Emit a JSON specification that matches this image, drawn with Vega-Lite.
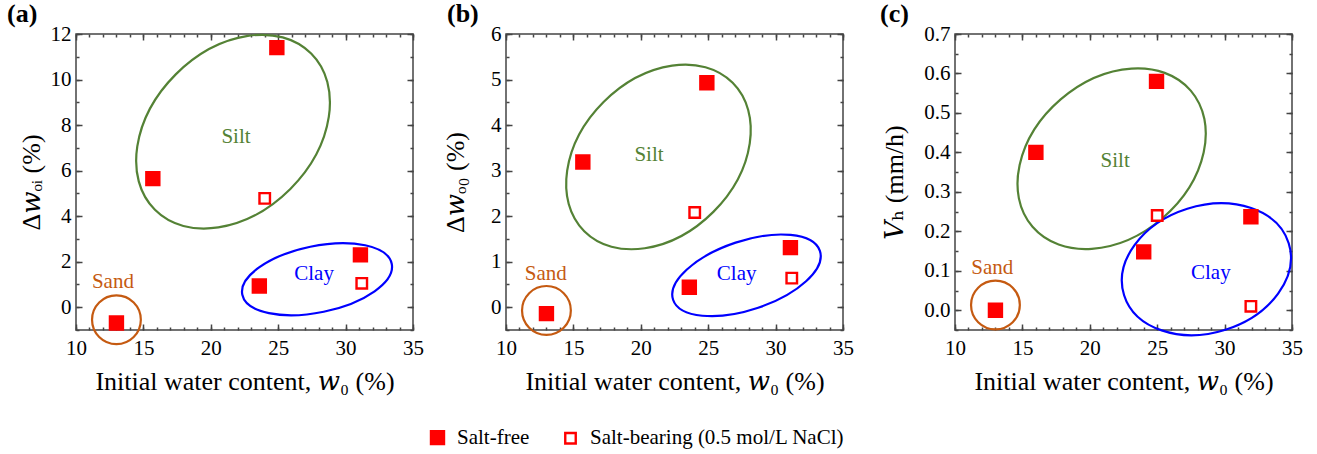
{
  "$schema": "https://vega.github.io/schema/vega-lite/v6.json",
  "background": "white",
  "padding": {"left": 6, "top": 0, "right": 5, "bottom": 5},
  "config": {
    "font": "Liberation Serif",
    "view": {"stroke": "#444444", "strokeWidth": 1.5},
    "axis": {
      "domain": false,
      "grid": false,
      "tickColor": "#444444",
      "tickWidth": 1.5,
      "labelFont": "Liberation Serif",
      "labelFontSize": 21,
      "labelColor": "black",
      "labelFlush": false,
      "labelOverlap": false,
      "titleFont": "Liberation Serif, DejaVu Serif",
      "titleFontSize": 26,
      "titleFontWeight": "normal",
      "titleColor": "black"
    },
    "legend": {"labelFont": "Liberation Serif", "labelFontSize": 21, "labelColor": "black", "labelLimit": 0},
    "title": {"font": "Liberation Serif", "fontSize": 26, "fontWeight": "bold", "color": "black", "anchor": "start", "frame": "group"}
  },
  "datasets": {
    "points": [
      {"panel": "a", "w0": 24.9, "value": 11.4, "condition": "Salt-free"},
      {"panel": "a", "w0": 15.7, "value": 5.65, "condition": "Salt-free"},
      {"panel": "a", "w0": 24.0, "value": 4.78, "condition": "Salt-bearing (0.5 mol/L NaCl)"},
      {"panel": "a", "w0": 31.1, "value": 2.3, "condition": "Salt-free"},
      {"panel": "a", "w0": 31.2, "value": 1.05, "condition": "Salt-bearing (0.5 mol/L NaCl)"},
      {"panel": "a", "w0": 23.6, "value": 0.93, "condition": "Salt-free"},
      {"panel": "a", "w0": 13.0, "value": -0.69, "condition": "Salt-free"},
      {"panel": "b", "w0": 24.9, "value": 4.93, "condition": "Salt-free"},
      {"panel": "b", "w0": 15.7, "value": 3.19, "condition": "Salt-free"},
      {"panel": "b", "w0": 24.0, "value": 2.08, "condition": "Salt-bearing (0.5 mol/L NaCl)"},
      {"panel": "b", "w0": 31.1, "value": 1.31, "condition": "Salt-free"},
      {"panel": "b", "w0": 31.2, "value": 0.64, "condition": "Salt-bearing (0.5 mol/L NaCl)"},
      {"panel": "b", "w0": 23.6, "value": 0.44, "condition": "Salt-free"},
      {"panel": "b", "w0": 13.0, "value": -0.14, "condition": "Salt-free"},
      {"panel": "c", "w0": 24.95, "value": 0.58, "condition": "Salt-free"},
      {"panel": "c", "w0": 16.0, "value": 0.40, "condition": "Salt-free"},
      {"panel": "c", "w0": 25.0, "value": 0.24, "condition": "Salt-bearing (0.5 mol/L NaCl)"},
      {"panel": "c", "w0": 31.95, "value": 0.237, "condition": "Salt-free"},
      {"panel": "c", "w0": 24.0, "value": 0.148, "condition": "Salt-free"},
      {"panel": "c", "w0": 31.95, "value": 0.01, "condition": "Salt-bearing (0.5 mol/L NaCl)"},
      {"panel": "c", "w0": 13.0, "value": 0.0, "condition": "Salt-free"}
    ],
    "rings": [
      {"panel": "a", "soil": "Silt", "ring": "a-Silt", "w0": 21.65, "value": 7.71},
      {"panel": "a", "soil": "Clay", "ring": "a-Clay", "w0": 27.88, "value": 1.23},
      {"panel": "a", "soil": "Sand", "ring": "Sand", "w0": 13.0, "value": -0.55},
      {"panel": "b", "soil": "Silt", "ring": "b-Silt", "w0": 21.31, "value": 3.30},
      {"panel": "b", "soil": "Clay", "ring": "b-Clay", "w0": 27.84, "value": 0.70},
      {"panel": "b", "soil": "Sand", "ring": "Sand", "w0": 13.0, "value": -0.07},
      {"panel": "c", "soil": "Silt", "ring": "c-Silt", "w0": 21.62, "value": 0.384},
      {"panel": "c", "soil": "Clay", "ring": "c-Clay", "w0": 28.65, "value": 0.104},
      {"panel": "c", "soil": "Sand", "ring": "Sand", "w0": 13.0, "value": 0.0135}
    ],
    "labels": [
      {"panel": "a", "soil": "Silt", "w0": 21.87, "value": 7.47},
      {"panel": "a", "soil": "Clay", "w0": 27.66, "value": 1.45},
      {"panel": "a", "soil": "Sand", "w0": 12.74, "value": 1.10},
      {"panel": "b", "soil": "Silt", "w0": 20.61, "value": 3.34},
      {"panel": "b", "soil": "Clay", "w0": 27.11, "value": 0.72},
      {"panel": "b", "soil": "Sand", "w0": 12.95, "value": 0.74},
      {"panel": "c", "soil": "Silt", "w0": 21.88, "value": 0.377},
      {"panel": "c", "soil": "Clay", "w0": 28.98, "value": 0.095},
      {"panel": "c", "soil": "Sand", "w0": 12.77, "value": 0.106}
    ]
  },
  "spacing": 93,
  "bounds": "flush",
  "resolve": {"scale": {"fill": "shared", "stroke": "shared", "size": "shared", "color": "shared", "shape": "shared"}},
  "hconcat": [
    {
      "width": 337,
      "height": 296,
      "title": {"text": "(a)", "dx": -69, "dy": 4, "offset": 0},
      "resolve": {"axis": {"x": "independent", "y": "independent"}},
      "layer": [
        {
          "data": {"name": "rings"},
          "transform": [{"filter": "datum.panel === 'a'"}],
          "mark": {"type": "point", "filled": false, "size": 40000, "strokeWidth": 2.2, "opacity": 1},
          "encoding": {
            "x": {"field": "w0", "type": "quantitative", "axis": null, "scale": {"domain": [10, 35], "nice": false, "zero": false}},
            "y": {"field": "value", "type": "quantitative", "axis": null, "scale": {"domain": [-1, 12], "nice": false, "zero": false}},
            "color": {"field": "soil", "type": "nominal", "legend": null, "scale": {"domain": ["Silt", "Clay", "Sand"], "range": ["#548235", "#0000ff", "#c55a11"]}},
            "shape": {"field": "ring", "type": "nominal", "legend": null, "scale": {
              "domain": ["a-Silt", "a-Clay", "b-Silt", "b-Clay", "c-Silt", "c-Clay", "Sand"],
              "range": [
                "M 0.781 -0.781 C 1.098 -0.465 1.004 0.141 0.573 0.573 C 0.141 1.004 -0.465 1.098 -0.781 0.781 C -1.098 0.465 -1.004 -0.141 -0.573 -0.573 C -0.141 -1.004 0.465 -1.098 0.781 -0.781 Z",
                "M 0.747 -0.155 C 0.784 0.025 0.480 0.240 0.067 0.325 C -0.346 0.411 -0.710 0.334 -0.747 0.155 C -0.784 -0.025 -0.480 -0.240 -0.067 -0.325 C 0.346 -0.411 0.710 -0.334 0.747 -0.155 Z",
                "M 0.742 -0.742 C 1.045 -0.439 0.959 0.139 0.549 0.549 C 0.139 0.959 -0.439 1.045 -0.742 0.742 C -1.045 0.439 -0.959 -0.139 -0.549 -0.549 C -0.139 -0.959 0.439 -1.045 0.742 -0.742 Z",
                "M 0.734 -0.244 C 0.794 -0.063 0.514 0.192 0.109 0.327 C -0.296 0.462 -0.674 0.425 -0.734 0.244 C -0.794 0.063 -0.514 -0.192 -0.109 -0.327 C 0.296 -0.462 0.674 -0.425 0.734 -0.244 Z",
                "M 0.791 -0.681 C 1.073 -0.353 0.947 0.217 0.510 0.593 C 0.073 0.969 -0.509 1.009 -0.791 0.681 C -1.073 0.353 -0.947 -0.217 -0.510 -0.593 C -0.073 -0.969 0.509 -1.009 0.791 -0.681 Z",
                "M 0.823 -0.260 C 0.928 0.074 0.646 0.461 0.191 0.605 C -0.264 0.749 -0.718 0.594 -0.823 0.260 C -0.928 -0.074 -0.646 -0.461 -0.191 -0.605 C 0.264 -0.749 0.718 -0.594 0.823 -0.260 Z",
                "M 0.244 0 C 0.244 0.135 0.135 0.244 0 0.244 C -0.135 0.244 -0.244 0.135 -0.244 0 C -0.244 -0.135 -0.135 -0.244 0 -0.244 C 0.135 -0.244 0.244 -0.135 0.244 0 Z"
              ]}}
          }
        },
        {
          "data": {"name": "labels"},
          "transform": [{"filter": "datum.panel === 'a'"}],
          "mark": {"type": "text", "fontSize": 21, "align": "center", "baseline": "middle"},
          "encoding": {
            "x": {"field": "w0", "type": "quantitative", "axis": null, "scale": {"domain": [10, 35], "nice": false, "zero": false}},
            "y": {"field": "value", "type": "quantitative", "axis": null, "scale": {"domain": [-1, 12], "nice": false, "zero": false}},
            "text": {"field": "soil"},
            "color": {"field": "soil", "type": "nominal", "legend": null}
          }
        },
        {
          "data": {"name": "points"},
          "transform": [{"filter": "datum.panel === 'a'"}],
          "mark": {"type": "point", "shape": "square", "filled": true, "strokeWidth": 2.4, "opacity": 1},
          "encoding": {
            "x": {"field": "w0", "type": "quantitative", "scale": {"domain": [10, 35], "nice": false, "zero": false},
              "axis": {"orient": "bottom", "values": [10, 15, 20, 25, 30, 35], "ticks": false, "labelPadding": 7,
                "title": "Initial water content, 𝑤₀ (%)", "titlePadding": 10}},
            "y": {"field": "value", "type": "quantitative", "scale": {"domain": [-1, 12], "nice": false, "zero": false},
              "axis": {"orient": "left", "values": [0, 2, 4, 6, 8, 10, 12], "ticks": false, "labelPadding": 5,
                "title": "Δ𝑤ₒᵢ (%)", "titlePadding": 6}},
            "fill": {"field": "condition", "type": "nominal", "scale": {"domain": ["Salt-free", "Salt-bearing (0.5 mol/L NaCl)"], "range": ["#ff0000", "#ffffff"]},
              "legend": {"orient": "none", "legendX": 351, "legendY": 393, "direction": "horizontal", "title": null, "labelFont": "Liberation Serif", "labelFontSize": 21, "symbolType": "square", "symbolStrokeWidth": 2.4, "columnPadding": 30, "labelOffset": 9}},
            "stroke": {"field": "condition", "type": "nominal", "scale": {"domain": ["Salt-free", "Salt-bearing (0.5 mol/L NaCl)"], "range": ["#ff0000", "#ff0000"]},
              "legend": {"orient": "none", "legendX": 351, "legendY": 393, "direction": "horizontal", "title": null, "labelFont": "Liberation Serif", "labelFontSize": 21, "symbolType": "square", "symbolStrokeWidth": 2.4, "columnPadding": 30, "labelOffset": 9}},
            "size": {"field": "condition", "type": "nominal", "scale": {"domain": ["Salt-free", "Salt-bearing (0.5 mol/L NaCl)"], "range": [169, 110]},
              "legend": {"orient": "none", "legendX": 351, "legendY": 393, "direction": "horizontal", "title": null, "labelFont": "Liberation Serif", "labelFontSize": 21, "symbolType": "square", "symbolStrokeWidth": 2.4, "columnPadding": 30, "labelOffset": 9}}
          }
        },
        {
          "data": {"name": "points"},
          "transform": [{"filter": "datum.panel === 'a'"}],
          "mark": {"type": "point", "opacity": 0},
          "encoding": {
            "x": {"field": "w0", "type": "quantitative", "scale": {"domain": [10, 35], "nice": false, "zero": false},
              "axis": {"orient": "bottom", "values": [10, 15, 20, 25, 30, 35], "offset": -6, "tickSize": 6, "labels": false, "title": null}},
            "y": {"field": "value", "type": "quantitative", "scale": {"domain": [-1, 12], "nice": false, "zero": false},
              "axis": {"orient": "left", "values": [0, 2, 4, 6, 8, 10, 12], "offset": -6, "tickSize": 6, "labels": false, "title": null}}
          }
        },
        {
          "data": {"name": "points"},
          "transform": [{"filter": "datum.panel === 'a'"}],
          "mark": {"type": "point", "opacity": 0},
          "encoding": {
            "x": {"field": "w0", "type": "quantitative", "scale": {"domain": [10, 35], "nice": false, "zero": false},
              "axis": {"orient": "bottom", "values": [10,11,12,13,14,15,16,17,18,19,20,21,22,23,24,25,26,27,28,29,30,31,32,33,34,35], "offset": -3, "tickSize": 3, "labels": false, "title": null}},
            "y": {"field": "value", "type": "quantitative", "scale": {"domain": [-1, 12], "nice": false, "zero": false},
              "axis": {"orient": "left", "values": [-1,0,1,2,3,4,5,6,7,8,9,10,11,12], "offset": -3, "tickSize": 3, "labels": false, "title": null}}
          }
        },
        {
          "data": {"name": "points"},
          "transform": [{"filter": "datum.panel === 'a'"}],
          "mark": {"type": "point", "opacity": 0},
          "encoding": {
            "x": {"field": "w0", "type": "quantitative", "scale": {"domain": [10, 35], "nice": false, "zero": false},
              "axis": {"orient": "top", "values": [10, 15, 20, 25, 30, 35], "offset": -6, "tickSize": 6, "labels": false, "title": null}},
            "y": {"field": "value", "type": "quantitative", "scale": {"domain": [-1, 12], "nice": false, "zero": false},
              "axis": {"orient": "right", "values": [0, 2, 4, 6, 8, 10, 12], "offset": -6, "tickSize": 6, "labels": false, "title": null}}
          }
        },
        {
          "data": {"name": "points"},
          "transform": [{"filter": "datum.panel === 'a'"}],
          "mark": {"type": "point", "opacity": 0},
          "encoding": {
            "x": {"field": "w0", "type": "quantitative", "scale": {"domain": [10, 35], "nice": false, "zero": false},
              "axis": {"orient": "top", "values": [10,11,12,13,14,15,16,17,18,19,20,21,22,23,24,25,26,27,28,29,30,31,32,33,34,35], "offset": -3, "tickSize": 3, "labels": false, "title": null}},
            "y": {"field": "value", "type": "quantitative", "scale": {"domain": [-1, 12], "nice": false, "zero": false},
              "axis": {"orient": "right", "values": [-1,0,1,2,3,4,5,6,7,8,9,10,11,12], "offset": -3, "tickSize": 3, "labels": false, "title": null}}
          }
        }
      ]
    },
    {
      "spacing": 112,
      "bounds": "flush",
      "hconcat": [
        {
          "width": 337,
          "height": 296,
          "title": {"text": "(b)", "dx": -59, "dy": 4, "offset": 0},
          "resolve": {"axis": {"x": "independent", "y": "independent"}},
          "layer": [
            {
              "data": {"name": "rings"},
              "transform": [{"filter": "datum.panel === 'b'"}],
              "mark": {"type": "point", "filled": false, "size": 40000, "strokeWidth": 2.2, "opacity": 1},
              "encoding": {
                "x": {"field": "w0", "type": "quantitative", "axis": null, "scale": {"domain": [10, 35], "nice": false, "zero": false}},
                "y": {"field": "value", "type": "quantitative", "axis": null, "scale": {"domain": [-0.5, 6], "nice": false, "zero": false}},
                "color": {"field": "soil", "type": "nominal", "legend": null},
                "shape": {"field": "ring", "type": "nominal", "legend": null}
              }
            },
            {
              "data": {"name": "labels"},
              "transform": [{"filter": "datum.panel === 'b'"}],
              "mark": {"type": "text", "fontSize": 21, "align": "center", "baseline": "middle"},
              "encoding": {
                "x": {"field": "w0", "type": "quantitative", "axis": null, "scale": {"domain": [10, 35], "nice": false, "zero": false}},
                "y": {"field": "value", "type": "quantitative", "axis": null, "scale": {"domain": [-0.5, 6], "nice": false, "zero": false}},
                "text": {"field": "soil"},
                "color": {"field": "soil", "type": "nominal", "legend": null}
              }
            },
            {
              "data": {"name": "points"},
              "transform": [{"filter": "datum.panel === 'b'"}],
              "mark": {"type": "point", "shape": "square", "filled": true, "strokeWidth": 2.4, "opacity": 1},
              "encoding": {
                "x": {"field": "w0", "type": "quantitative", "scale": {"domain": [10, 35], "nice": false, "zero": false},
                  "axis": {"orient": "bottom", "values": [10, 15, 20, 25, 30, 35], "ticks": false, "labelPadding": 7,
                    "title": "Initial water content, 𝑤₀ (%)", "titlePadding": 10}},
                "y": {"field": "value", "type": "quantitative", "scale": {"domain": [-0.5, 6], "nice": false, "zero": false},
                  "axis": {"orient": "left", "values": [0, 1, 2, 3, 4, 5, 6], "format": "d", "ticks": false, "labelPadding": 5,
                    "title": "Δ𝑤ₒ₀ (%)", "titlePadding": 22}},
                "fill": {"field": "condition", "type": "nominal",
                  "legend": {"orient": "none", "legendX": 351, "legendY": 393, "direction": "horizontal", "title": null, "labelFont": "Liberation Serif", "labelFontSize": 21, "symbolType": "square", "symbolStrokeWidth": 2.4, "columnPadding": 30, "labelOffset": 9}},
                "stroke": {"field": "condition", "type": "nominal",
                  "legend": {"orient": "none", "legendX": 351, "legendY": 393, "direction": "horizontal", "title": null, "labelFont": "Liberation Serif", "labelFontSize": 21, "symbolType": "square", "symbolStrokeWidth": 2.4, "columnPadding": 30, "labelOffset": 9}},
                "size": {"field": "condition", "type": "nominal",
                  "legend": {"orient": "none", "legendX": 351, "legendY": 393, "direction": "horizontal", "title": null, "labelFont": "Liberation Serif", "labelFontSize": 21, "symbolType": "square", "symbolStrokeWidth": 2.4, "columnPadding": 30, "labelOffset": 9}}
              }
            },
            {
              "data": {"name": "points"},
              "transform": [{"filter": "datum.panel === 'b'"}],
              "mark": {"type": "point", "opacity": 0},
              "encoding": {
                "x": {"field": "w0", "type": "quantitative", "scale": {"domain": [10, 35], "nice": false, "zero": false},
                  "axis": {"orient": "bottom", "values": [10, 15, 20, 25, 30, 35], "offset": -6, "tickSize": 6, "labels": false, "title": null}},
                "y": {"field": "value", "type": "quantitative", "scale": {"domain": [-0.5, 6], "nice": false, "zero": false},
                  "axis": {"orient": "left", "values": [0, 1, 2, 3, 4, 5, 6], "offset": -6, "tickSize": 6, "labels": false, "title": null}}
              }
            },
            {
              "data": {"name": "points"},
              "transform": [{"filter": "datum.panel === 'b'"}],
              "mark": {"type": "point", "opacity": 0},
              "encoding": {
                "x": {"field": "w0", "type": "quantitative", "scale": {"domain": [10, 35], "nice": false, "zero": false},
                  "axis": {"orient": "bottom", "values": [10,11,12,13,14,15,16,17,18,19,20,21,22,23,24,25,26,27,28,29,30,31,32,33,34,35], "offset": -3, "tickSize": 3, "labels": false, "title": null}},
                "y": {"field": "value", "type": "quantitative", "scale": {"domain": [-0.5, 6], "nice": false, "zero": false},
                  "axis": {"orient": "left", "values": [-0.5,0,0.5,1,1.5,2,2.5,3,3.5,4,4.5,5,5.5,6], "offset": -3, "tickSize": 3, "labels": false, "title": null}}
              }
            },
            {
              "data": {"name": "points"},
              "transform": [{"filter": "datum.panel === 'b'"}],
              "mark": {"type": "point", "opacity": 0},
              "encoding": {
                "x": {"field": "w0", "type": "quantitative", "scale": {"domain": [10, 35], "nice": false, "zero": false},
                  "axis": {"orient": "top", "values": [10, 15, 20, 25, 30, 35], "offset": -6, "tickSize": 6, "labels": false, "title": null}},
                "y": {"field": "value", "type": "quantitative", "scale": {"domain": [-0.5, 6], "nice": false, "zero": false},
                  "axis": {"orient": "right", "values": [0, 1, 2, 3, 4, 5, 6], "offset": -6, "tickSize": 6, "labels": false, "title": null}}
              }
            },
            {
              "data": {"name": "points"},
              "transform": [{"filter": "datum.panel === 'b'"}],
              "mark": {"type": "point", "opacity": 0},
              "encoding": {
                "x": {"field": "w0", "type": "quantitative", "scale": {"domain": [10, 35], "nice": false, "zero": false},
                  "axis": {"orient": "top", "values": [10,11,12,13,14,15,16,17,18,19,20,21,22,23,24,25,26,27,28,29,30,31,32,33,34,35], "offset": -3, "tickSize": 3, "labels": false, "title": null}},
                "y": {"field": "value", "type": "quantitative", "scale": {"domain": [-0.5, 6], "nice": false, "zero": false},
                  "axis": {"orient": "right", "values": [-0.5,0,0.5,1,1.5,2,2.5,3,3.5,4,4.5,5,5.5,6], "offset": -3, "tickSize": 3, "labels": false, "title": null}}
              }
            }
          ]
        },
        {
          "width": 337,
          "height": 296,
          "title": {"text": "(c)", "dx": -75, "dy": 4, "offset": 0},
          "resolve": {"axis": {"x": "independent", "y": "independent"}},
          "layer": [
            {
              "data": {"name": "rings"},
              "transform": [{"filter": "datum.panel === 'c'"}],
              "mark": {"type": "point", "filled": false, "size": 40000, "strokeWidth": 2.2, "opacity": 1},
              "encoding": {
                "x": {"field": "w0", "type": "quantitative", "axis": null, "scale": {"domain": [10, 35], "nice": false, "zero": false}},
                "y": {"field": "value", "type": "quantitative", "axis": null, "scale": {"domain": [-0.05, 0.7], "nice": false, "zero": false}},
                "color": {"field": "soil", "type": "nominal", "legend": null},
                "shape": {"field": "ring", "type": "nominal", "legend": null}
              }
            },
            {
              "data": {"name": "labels"},
              "transform": [{"filter": "datum.panel === 'c'"}],
              "mark": {"type": "text", "fontSize": 21, "align": "center", "baseline": "middle"},
              "encoding": {
                "x": {"field": "w0", "type": "quantitative", "axis": null, "scale": {"domain": [10, 35], "nice": false, "zero": false}},
                "y": {"field": "value", "type": "quantitative", "axis": null, "scale": {"domain": [-0.05, 0.7], "nice": false, "zero": false}},
                "text": {"field": "soil"},
                "color": {"field": "soil", "type": "nominal", "legend": null}
              }
            },
            {
              "data": {"name": "points"},
              "transform": [{"filter": "datum.panel === 'c'"}],
              "mark": {"type": "point", "shape": "square", "filled": true, "strokeWidth": 2.4, "opacity": 1},
              "encoding": {
                "x": {"field": "w0", "type": "quantitative", "scale": {"domain": [10, 35], "nice": false, "zero": false},
                  "axis": {"orient": "bottom", "values": [10, 15, 20, 25, 30, 35], "ticks": false, "labelPadding": 7,
                    "title": "Initial water content, 𝑤₀ (%)", "titlePadding": 10}},
                "y": {"field": "value", "type": "quantitative", "scale": {"domain": [-0.05, 0.7], "nice": false, "zero": false},
                  "axis": {"orient": "left", "values": [0, 0.1, 0.2, 0.3, 0.4, 0.5, 0.6, 0.7], "format": ".1f", "ticks": false, "labelPadding": 5,
                    "title": "𝑉ₕ (mm/h)", "titlePadding": 16}},
                "fill": {"field": "condition", "type": "nominal",
                  "legend": {"orient": "none", "legendX": 351, "legendY": 393, "direction": "horizontal", "title": null, "labelFont": "Liberation Serif", "labelFontSize": 21, "symbolType": "square", "symbolStrokeWidth": 2.4, "columnPadding": 30, "labelOffset": 9}},
                "stroke": {"field": "condition", "type": "nominal",
                  "legend": {"orient": "none", "legendX": 351, "legendY": 393, "direction": "horizontal", "title": null, "labelFont": "Liberation Serif", "labelFontSize": 21, "symbolType": "square", "symbolStrokeWidth": 2.4, "columnPadding": 30, "labelOffset": 9}},
                "size": {"field": "condition", "type": "nominal",
                  "legend": {"orient": "none", "legendX": 351, "legendY": 393, "direction": "horizontal", "title": null, "labelFont": "Liberation Serif", "labelFontSize": 21, "symbolType": "square", "symbolStrokeWidth": 2.4, "columnPadding": 30, "labelOffset": 9}}
              }
            },
            {
              "data": {"name": "points"},
              "transform": [{"filter": "datum.panel === 'c'"}],
              "mark": {"type": "point", "opacity": 0},
              "encoding": {
                "x": {"field": "w0", "type": "quantitative", "scale": {"domain": [10, 35], "nice": false, "zero": false},
                  "axis": {"orient": "bottom", "values": [10, 15, 20, 25, 30, 35], "offset": -6, "tickSize": 6, "labels": false, "title": null}},
                "y": {"field": "value", "type": "quantitative", "scale": {"domain": [-0.05, 0.7], "nice": false, "zero": false},
                  "axis": {"orient": "left", "values": [0, 0.1, 0.2, 0.3, 0.4, 0.5, 0.6, 0.7], "offset": -6, "tickSize": 6, "labels": false, "title": null}}
              }
            },
            {
              "data": {"name": "points"},
              "transform": [{"filter": "datum.panel === 'c'"}],
              "mark": {"type": "point", "opacity": 0},
              "encoding": {
                "x": {"field": "w0", "type": "quantitative", "scale": {"domain": [10, 35], "nice": false, "zero": false},
                  "axis": {"orient": "bottom", "values": [10,11,12,13,14,15,16,17,18,19,20,21,22,23,24,25,26,27,28,29,30,31,32,33,34,35], "offset": -3, "tickSize": 3, "labels": false, "title": null}},
                "y": {"field": "value", "type": "quantitative", "scale": {"domain": [-0.05, 0.7], "nice": false, "zero": false},
                  "axis": {"orient": "left", "values": [-0.05,0,0.05,0.1,0.15,0.2,0.25,0.3,0.35,0.4,0.45,0.5,0.55,0.6,0.65,0.7], "offset": -3, "tickSize": 3, "labels": false, "title": null}}
              }
            },
            {
              "data": {"name": "points"},
              "transform": [{"filter": "datum.panel === 'c'"}],
              "mark": {"type": "point", "opacity": 0},
              "encoding": {
                "x": {"field": "w0", "type": "quantitative", "scale": {"domain": [10, 35], "nice": false, "zero": false},
                  "axis": {"orient": "top", "values": [10, 15, 20, 25, 30, 35], "offset": -6, "tickSize": 6, "labels": false, "title": null}},
                "y": {"field": "value", "type": "quantitative", "scale": {"domain": [-0.05, 0.7], "nice": false, "zero": false},
                  "axis": {"orient": "right", "values": [0, 0.1, 0.2, 0.3, 0.4, 0.5, 0.6, 0.7], "offset": -6, "tickSize": 6, "labels": false, "title": null}}
              }
            },
            {
              "data": {"name": "points"},
              "transform": [{"filter": "datum.panel === 'c'"}],
              "mark": {"type": "point", "opacity": 0},
              "encoding": {
                "x": {"field": "w0", "type": "quantitative", "scale": {"domain": [10, 35], "nice": false, "zero": false},
                  "axis": {"orient": "top", "values": [10,11,12,13,14,15,16,17,18,19,20,21,22,23,24,25,26,27,28,29,30,31,32,33,34,35], "offset": -3, "tickSize": 3, "labels": false, "title": null}},
                "y": {"field": "value", "type": "quantitative", "scale": {"domain": [-0.05, 0.7], "nice": false, "zero": false},
                  "axis": {"orient": "right", "values": [-0.05,0,0.05,0.1,0.15,0.2,0.25,0.3,0.35,0.4,0.45,0.5,0.55,0.6,0.65,0.7], "offset": -3, "tickSize": 3, "labels": false, "title": null}}
              }
            }
          ]
        }
      ]
    }
  ]
}
